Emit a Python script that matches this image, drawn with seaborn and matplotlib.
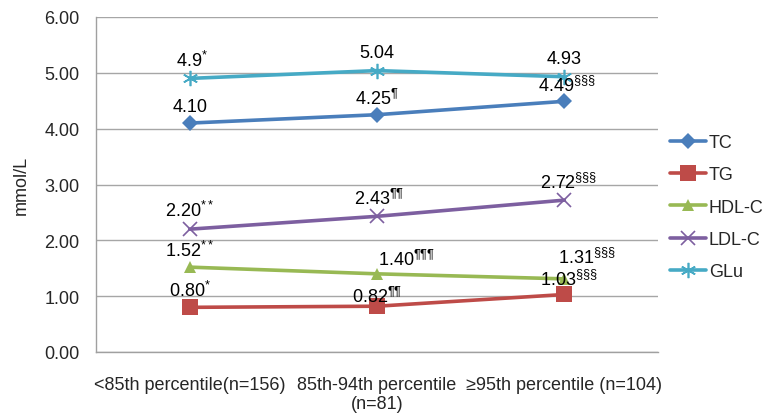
import numpy as np
import pandas as pd
import seaborn as sns
import matplotlib.pyplot as plt
from matplotlib.ticker import FixedLocator

# categories on the x axis
groups = ['<85th percentile(n=156)', '85th-94th percentile\n(n=81)', '≥95th percentile (n=104)']

# series values (mmol/L)
tc = [4.10, 4.25, 4.49]
tg = [0.80, 0.82, 1.03]
hdl = [1.52, 1.40, 1.31]
ldl = [2.20, 2.43, 2.72]
glu = [4.90, 5.04, 4.93]

# significance marks shown as superscripts
tc_sig = ['', '¶', '§§§']
tg_sig = ['*', '¶¶', '§§§']
hdl_sig = ['**', '¶¶¶', '§§§']
ldl_sig = ['**', '¶¶', '§§§']
glu_sig = ['*', '', '']

tc_txt = ['4.10', '4.25', '4.49']
tg_txt = ['0.80', '0.82', '1.03']
hdl_txt = ['1.52', '1.40', '1.31']
ldl_txt = ['2.20', '2.43', '2.72']
glu_txt = ['4.9', '5.04', '4.93']

names = ['TC', 'TG', 'HDL-C', 'LDL-C', 'GLu']
values = [tc, tg, hdl, ldl, glu]
sigs = [tc_sig, tg_sig, hdl_sig, ldl_sig, glu_sig]
texts = [tc_txt, tg_txt, hdl_txt, ldl_txt, glu_txt]

colors = {'TC': '#4A7EBB', 'TG': '#BE4B48', 'HDL-C': '#98B954',
          'LDL-C': '#7D5FA0', 'GLu': '#46AAC5'}
markers = {'TC': 'D', 'TG': 's', 'HDL-C': '^', 'LDL-C': 'x', 'GLu': (6, 2, 0)}
msize = {'TC': 8, 'TG': 11, 'HDL-C': 9, 'LDL-C': 10, 'GLu': 11}

# label offsets in pixels (dx, dy), mostly straight above the point
offsets = {
    'TC': [(0, 17), (0, 17), (2, 16)],
    'TG': [(0, 17), (0, 10), (4, 16)],
    'HDL-C': [(0, 17), (30, 15), (22, 22)],
    'LDL-C': [(0, 19), (2, 18), (4, 18)],
    'GLu': [(2, 18), (0, 18), (0, 18)],
}

rows = []
for n, v in zip(names, values):
    for i, y in enumerate(v):
        rows.append({'group': i, 'series': n, 'value': y})
df = pd.DataFrame(rows)

sns.set_style('white')
plt.rcParams['font.family'] = ['Liberation Sans', 'DejaVu Sans']
plt.rcParams['mathtext.fontset'] = 'custom'
plt.rcParams['mathtext.rm'] = 'Liberation Sans'
plt.rcParams['mathtext.it'] = 'Liberation Sans'

fig = plt.figure(figsize=(7.64, 4.14), dpi=100)
ax = fig.add_axes([96 / 764, 1 - 353 / 414, (658 - 96) / 764, (353 - 18) / 414])

for n in names:
    sub = df[df['series'] == n]
    sns.lineplot(data=sub, x='group', y='value', ax=ax, color=colors[n],
                 marker=markers[n], markersize=msize[n], linewidth=2.6,
                 markeredgecolor=colors[n], markeredgewidth=1.2 if n in ('LDL-C', 'GLu') else 0,
                 label=n, legend=False)

for n, v, sg, tx in zip(names, values, sigs, texts):
    for i, y in enumerate(v):
        lab = tx[i] + (r'$^{\mathrm{' + sg[i] + '}}$' if sg[i] else '')
        ax.annotate(lab, (i, y), xytext=offsets[n][i], textcoords='offset pixels',
                    ha='center', va='center', fontsize=13, color='black')

ax.set_xlim(-0.5, 2.5)
ax.set_ylim(0, 6)
ax.set_yticks(np.arange(0, 6.01, 1))
ax.set_yticklabels([f'{y:.2f}' for y in np.arange(0, 6.01, 1)], fontsize=13)
ax.set_xticks(range(3))
ax.set_xticklabels(groups, fontsize=13, linespacing=1.15)
ax.xaxis.set_minor_locator(FixedLocator([-0.5, 0.5, 1.5, 2.5]))
ax.tick_params(axis='x', which='major', length=0, pad=17)
ax.tick_params(axis='x', which='minor', length=5, color='#A0A0A0', width=1)
ax.tick_params(axis='y', length=6, color='#A0A0A0', width=1, pad=6)
ax.set_xlabel('')
ax.set_ylabel('mmol/L', fontsize=13, labelpad=10)
ax.yaxis.grid(True, color='#A6A6A6', linewidth=1)
for side in ['top', 'right']:
    ax.spines[side].set_visible(False)
for side in ['left', 'bottom']:
    ax.spines[side].set_color('#A0A0A0')
    ax.spines[side].set_linewidth(1)

handles, labels = ax.get_legend_handles_labels()
fig.legend(handles, labels, loc='upper left', bbox_to_anchor=(670 / 764, 1 - 135 / 414),
           frameon=False, fontsize=13, handlelength=2.0, handletextpad=0.15,
           labelspacing=0.85, borderpad=0, borderaxespad=0)

fig.savefig('out.png', dpi=100)
